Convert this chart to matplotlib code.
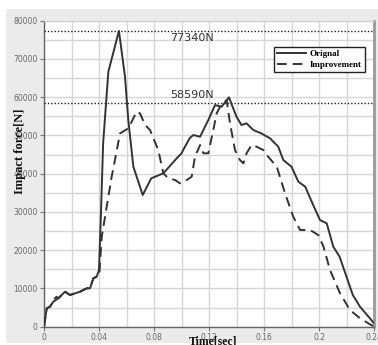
import matplotlib
matplotlib.use("Agg")
import matplotlib.pyplot as plt
from matplotlib.patches import Rectangle
import numpy as np

# Data
t_orig = [0, 0.002, 0.0044, 0.0068, 0.0104, 0.0153, 0.0189, 0.0262, 0.0311, 0.0335,
          0.0359, 0.0383, 0.040, 0.0415, 0.043, 0.0468, 0.0545, 0.0589, 0.0613, 0.065,
          0.0718, 0.078, 0.0868, 0.0965, 0.100, 0.1025, 0.106, 0.1086, 0.1135, 0.1195,
          0.1244, 0.1292, 0.1345, 0.140, 0.1436, 0.1473, 0.1522, 0.158, 0.1644, 0.1704,
          0.174, 0.180, 0.185, 0.190, 0.1947, 0.2007, 0.2056, 0.2104, 0.215, 0.22,
          0.2246, 0.2298, 0.237, 0.24]
f_orig = [0, 4810, 5230, 6540, 7420, 9150, 8290, 9150, 10040, 10040,
          12650, 13070, 14820, 30500, 47940, 66660, 77340, 65350, 54030, 41820,
          34430, 38790, 40100, 44020, 45330, 47050, 49300, 50110, 49670, 54030,
          57950, 57510, 59960, 54900, 52730, 53160, 51420, 50550, 49250, 47050,
          43580, 41820, 37900, 36600, 32680, 27890, 27030, 20910, 18300, 13070,
          8290, 5230, 2200, 890]

t_impr = [0, 0.002, 0.0044, 0.0068, 0.009, 0.0104, 0.0153, 0.0189, 0.0262, 0.0311,
          0.0335, 0.0359, 0.0383, 0.0402, 0.042, 0.0456, 0.0492, 0.0516, 0.0553, 0.0613,
          0.0674, 0.0698, 0.0735, 0.0771, 0.0831, 0.0868, 0.0904, 0.0953, 0.0989, 0.1038,
          0.1074, 0.1098, 0.1135, 0.1159, 0.1195, 0.1231, 0.1256, 0.128, 0.1304, 0.1328,
          0.1353, 0.1389, 0.1425, 0.145, 0.1473, 0.151, 0.1547, 0.1595, 0.162, 0.1693,
          0.1753, 0.1813, 0.1862, 0.1935, 0.1995, 0.2033, 0.208, 0.2153, 0.2225, 0.2298,
          0.24]
f_impr = [0, 4810, 5230, 7000, 7800, 7420, 9150, 8290, 9150, 10040,
          10040, 12650, 13070, 13500, 23530, 31370, 39210, 43580, 50550, 51860,
          56200, 55780, 52730, 51420, 46190, 40100, 38790, 38350, 37480, 38350,
          39210, 44440, 47500, 45330, 45330, 51420, 55780, 57510, 58400, 59260,
          53160, 46190, 43580, 42710, 45330, 47500, 47050, 46190, 44880, 41820,
          34870, 28750, 25280, 25280, 23970, 20910, 14820, 8730, 4370, 2200,
          0]

ref_levels = [77340, 58590]
ref_labels = ["77340N", "58590N"]
x_ticks = [0, 0.04, 0.08, 0.12, 0.16, 0.2, 0.24]
x_ticklabels = ["0", "0.04", "0.08", "0.12", "0.16", "0.2", "0.24"]
y_ticks = [0, 10000, 20000, 30000, 40000, 50000, 60000, 70000, 80000]
series_names = ["Orignal", "Improvement"]

W, H = 378, 345
fig = plt.figure(figsize=(W / 100, H / 100), dpi=100)
fig.patch.set_facecolor("white")
bg = Rectangle((6 / W, 2 / H), 1 - 6 / W, (343 - 9) / H,
               transform=fig.transFigure, facecolor="#ebebeb",
               edgecolor="none", zorder=-10)
fig.patches.append(bg)

ax = fig.add_axes([44 / W, (H - 326.7) / H, 330 / W, 306 / H])
ax.set_zorder(5)
ax.set_facecolor("white")
ax.set_xlim(0, 0.24)
ax.set_ylim(0, 80000)

ax.set_xticks(x_ticks)
ax.set_xticklabels(x_ticklabels)
ax.set_yticks(y_ticks)
ax.set_xticks(np.arange(0, 0.2401, 0.02), minor=True)
ax.set_yticks(np.arange(0, 80001, 5000), minor=True)
ax.grid(True, which="both", color="#d6d6d6", linewidth=1.0, zorder=0)
ax.set_axisbelow(True)
ax.tick_params(axis="both", which="major", labelsize=5.5, labelcolor="#666666",
               color="#777777", length=3, width=0.8, pad=1.5)
ax.tick_params(axis="both", which="minor", length=0)

for s in ["left", "bottom"]:
    ax.spines[s].set_color("#666666")
    ax.spines[s].set_linewidth(1.0)
ax.spines["top"].set_color("#d0d0d0")
ax.spines["right"].set_color("#999999")
ax.spines["right"].set_linewidth(2.0)

for lvl in ref_levels:
    ax.axhline(lvl, color="#222222", linestyle=(0, (1, 1.4)), linewidth=1.0, zorder=3)

ax.plot(t_orig, f_orig, color="#333333", linewidth=1.4, label=series_names[0], zorder=4)
ax.plot(t_impr, f_impr, color="#333333", linewidth=1.4, linestyle=(0, (5, 3)),
        label=series_names[1], zorder=4)

ax.text(0.0916, 75600, ref_labels[0], fontsize=8, color="#333333", va="center", ha="left")
ax.text(0.0916, 60500, ref_labels[1], fontsize=8, color="#333333", va="center", ha="left")

leg = ax.legend(loc="upper right", bbox_to_anchor=(0.973, 0.914), borderaxespad=0,
                fancybox=False, framealpha=1, edgecolor="#222222",
                prop={"family": "Liberation Serif", "weight": "bold", "size": 6.5},
                handlelength=3.2, handletextpad=0.4, borderpad=0.35, labelspacing=0.25)
leg.get_frame().set_linewidth(1.0)

fig.text(213 / W, 1 - 341 / H, "Time[sec]", fontsize=8.5, fontweight="bold",
         family="Liberation Serif", ha="center", va="center", color="#111111", zorder=6)
fig.text(20 / W, 1 - 151 / H, "Impact force[N]", fontsize=9, fontweight="bold",
         family="Liberation Serif", ha="center", va="center", rotation=90,
         color="#111111", zorder=6)

fig.savefig("out.png", dpi=100, facecolor=fig.get_facecolor())
